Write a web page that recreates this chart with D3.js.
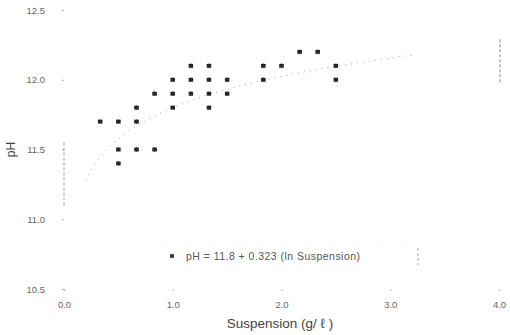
<!DOCTYPE html>
<html>
<head>
<meta charset="utf-8">
<script src="https://cdn.jsdelivr.net/npm/d3@7/dist/d3.min.js"></script>
<style>
  html, body { margin: 0; padding: 0; background: #fff; }
  svg { display: block; font-family: "Liberation Sans", Arial, sans-serif; }
</style>
</head>
<body>
<svg id="chart" width="510" height="335"></svg>
<script>
// Measured pH against suspension concentration (g/l)
const suspension = [0.333, 0.5, 0.5, 0.5, 0.667, 0.667, 0.667, 0.833, 0.833,
  1.0, 1.0, 1.0, 1.167, 1.167, 1.167, 1.333, 1.333, 1.333, 1.333, 1.5, 1.5,
  1.833, 1.833, 2.0, 2.167, 2.333, 2.5, 2.5];
const pH = [11.7, 11.7, 11.5, 11.4, 11.8, 11.7, 11.5, 11.9, 11.5,
  12.0, 11.9, 11.8, 12.1, 12.0, 11.9, 12.1, 12.0, 11.9, 11.8, 12.0, 11.9,
  12.1, 12.0, 12.1, 12.2, 12.2, 12.1, 12.0];

// Logarithmic fit: pH = a + b ln(S)
const fitIntercept = 11.8;
const fitSlope = 0.323;
const fitRange = [0.2, 3.2];

const xTicks = [0, 1, 2, 3, 4];
const yTicks = [10.5, 11.0, 11.5, 12.0, 12.5];
const xTitle = "Suspension (g/ ℓ )";
const yTitle = "pH";
const legendLabel = "pH = 11.8 + 0.323 (ln Suspension)";

const svg = d3.select("#chart");
const x = d3.scaleLinear().domain([0, 4]).range([64, 499]);
const y = d3.scaleLinear().domain([10.5, 12.5]).range([289, 10]);

// Faded plot frame
svg.append("rect")
  .attr("x", x(0)).attr("y", y(12.5))
  .attr("width", x(4) - x(0)).attr("height", y(10.5) - y(12.5))
  .attr("fill", "none").attr("stroke", "#ececec")
  .attr("stroke-width", 1).attr("stroke-dasharray", "1,17");

// Surviving pieces of the vertical frame lines
svg.append("line")
  .attr("x1", x(0)).attr("x2", x(0)).attr("y1", y(11.55)).attr("y2", y(11.09))
  .attr("stroke", "#999").attr("stroke-width", 1).attr("stroke-dasharray", "3,2");
svg.append("line")
  .attr("x1", x(4) + 1).attr("x2", x(4) + 1).attr("y1", y(12.29)).attr("y2", y(11.98))
  .attr("stroke", "#888").attr("stroke-width", 1).attr("stroke-dasharray", "3,2");

// Y axis
const yAxis = svg.append("g")
  .attr("transform", `translate(${x(0)},0)`)
  .call(d3.axisLeft(y).tickValues(yTicks).tickFormat(d3.format(".1f"))
    .tickSizeInner(2).tickSizeOuter(0).tickPadding(17));
yAxis.select(".domain").remove();
yAxis.selectAll(".tick line").attr("stroke", "#aaa");
yAxis.selectAll(".tick text").attr("fill", "#666")
  .style("font-size", "9.5px").style("font-family", "Liberation Sans, Arial, sans-serif");

// X axis
const xAxis = svg.append("g")
  .attr("transform", `translate(0,${y(10.5)})`)
  .call(d3.axisBottom(x).tickValues(xTicks).tickFormat(d3.format(".1f"))
    .tickSizeInner(2).tickSizeOuter(0).tickPadding(10));
xAxis.select(".domain").remove();
xAxis.selectAll(".tick line").attr("stroke", "#bbb");
xAxis.selectAll(".tick text").attr("fill", "#666")
  .style("font-size", "9.5px").style("font-family", "Liberation Sans, Arial, sans-serif");

// Axis titles
svg.append("text")
  .attr("x", 280).attr("y", 328)
  .attr("text-anchor", "middle")
  .attr("fill", "#444")
  .style("font-size", "13.5px")
  .text(xTitle);
svg.append("text")
  .attr("transform", `translate(15,${y(11.5)}) rotate(-90)`)
  .attr("text-anchor", "middle")
  .attr("fill", "#444")
  .style("font-size", "12px")
  .text(yTitle);

// Fitted curve
const fitPts = d3.range(fitRange[0], fitRange[1] + 1e-9, 0.02)
  .map(s => [s, fitIntercept + fitSlope * Math.log(s)]);
svg.append("path")
  .datum(fitPts)
  .attr("fill", "none")
  .attr("stroke", "#a0a0a0")
  .attr("stroke-width", 1)
  .attr("stroke-dasharray", "1,5")
  .attr("d", d3.line().x(d => x(d[0])).y(d => y(d[1])));

// Data markers
const marker = d3.symbol().type(d3.symbolAsterisk).size(16);
const pts = svg.append("g");
suspension.forEach((s, i) => {
  const g = pts.append("g").attr("transform", `translate(${x(s)},${y(pH[i])})`);
  g.append("rect").attr("x", -2.2).attr("y", -1.9).attr("width", 4.4).attr("height", 3.8)
    .attr("fill", "#111");
  g.append("path").attr("d", marker()).attr("fill", "none")
    .attr("stroke", "#333").attr("stroke-width", 0.8);
});

// Legend
const lg = svg.append("g");
lg.append("rect")
  .attr("x", 160).attr("y", 241).attr("width", 258).attr("height", 29)
  .attr("fill", "none").attr("stroke", "#e4e4e4")
  .attr("stroke-width", 1).attr("stroke-dasharray", "1,11");
lg.append("line")
  .attr("x1", 418).attr("x2", 418).attr("y1", 248).attr("y2", 265)
  .attr("stroke", "#aaa").attr("stroke-dasharray", "3,2");
const lm = lg.append("g").attr("transform", "translate(172,256)");
lm.append("rect").attr("x", -2).attr("y", -1.7).attr("width", 4).attr("height", 3.4)
  .attr("fill", "#222");
lm.append("path").attr("d", marker()).attr("fill", "none")
  .attr("stroke", "#444").attr("stroke-width", 0.7);
lg.append("text")
  .attr("x", 186).attr("y", 259.5)
  .attr("fill", "#555")
  .attr("textLength", 174)
  .attr("lengthAdjust", "spacing")
  .style("font-size", "10.5px")
  .text(legendLabel);
</script>
</body>
</html>
